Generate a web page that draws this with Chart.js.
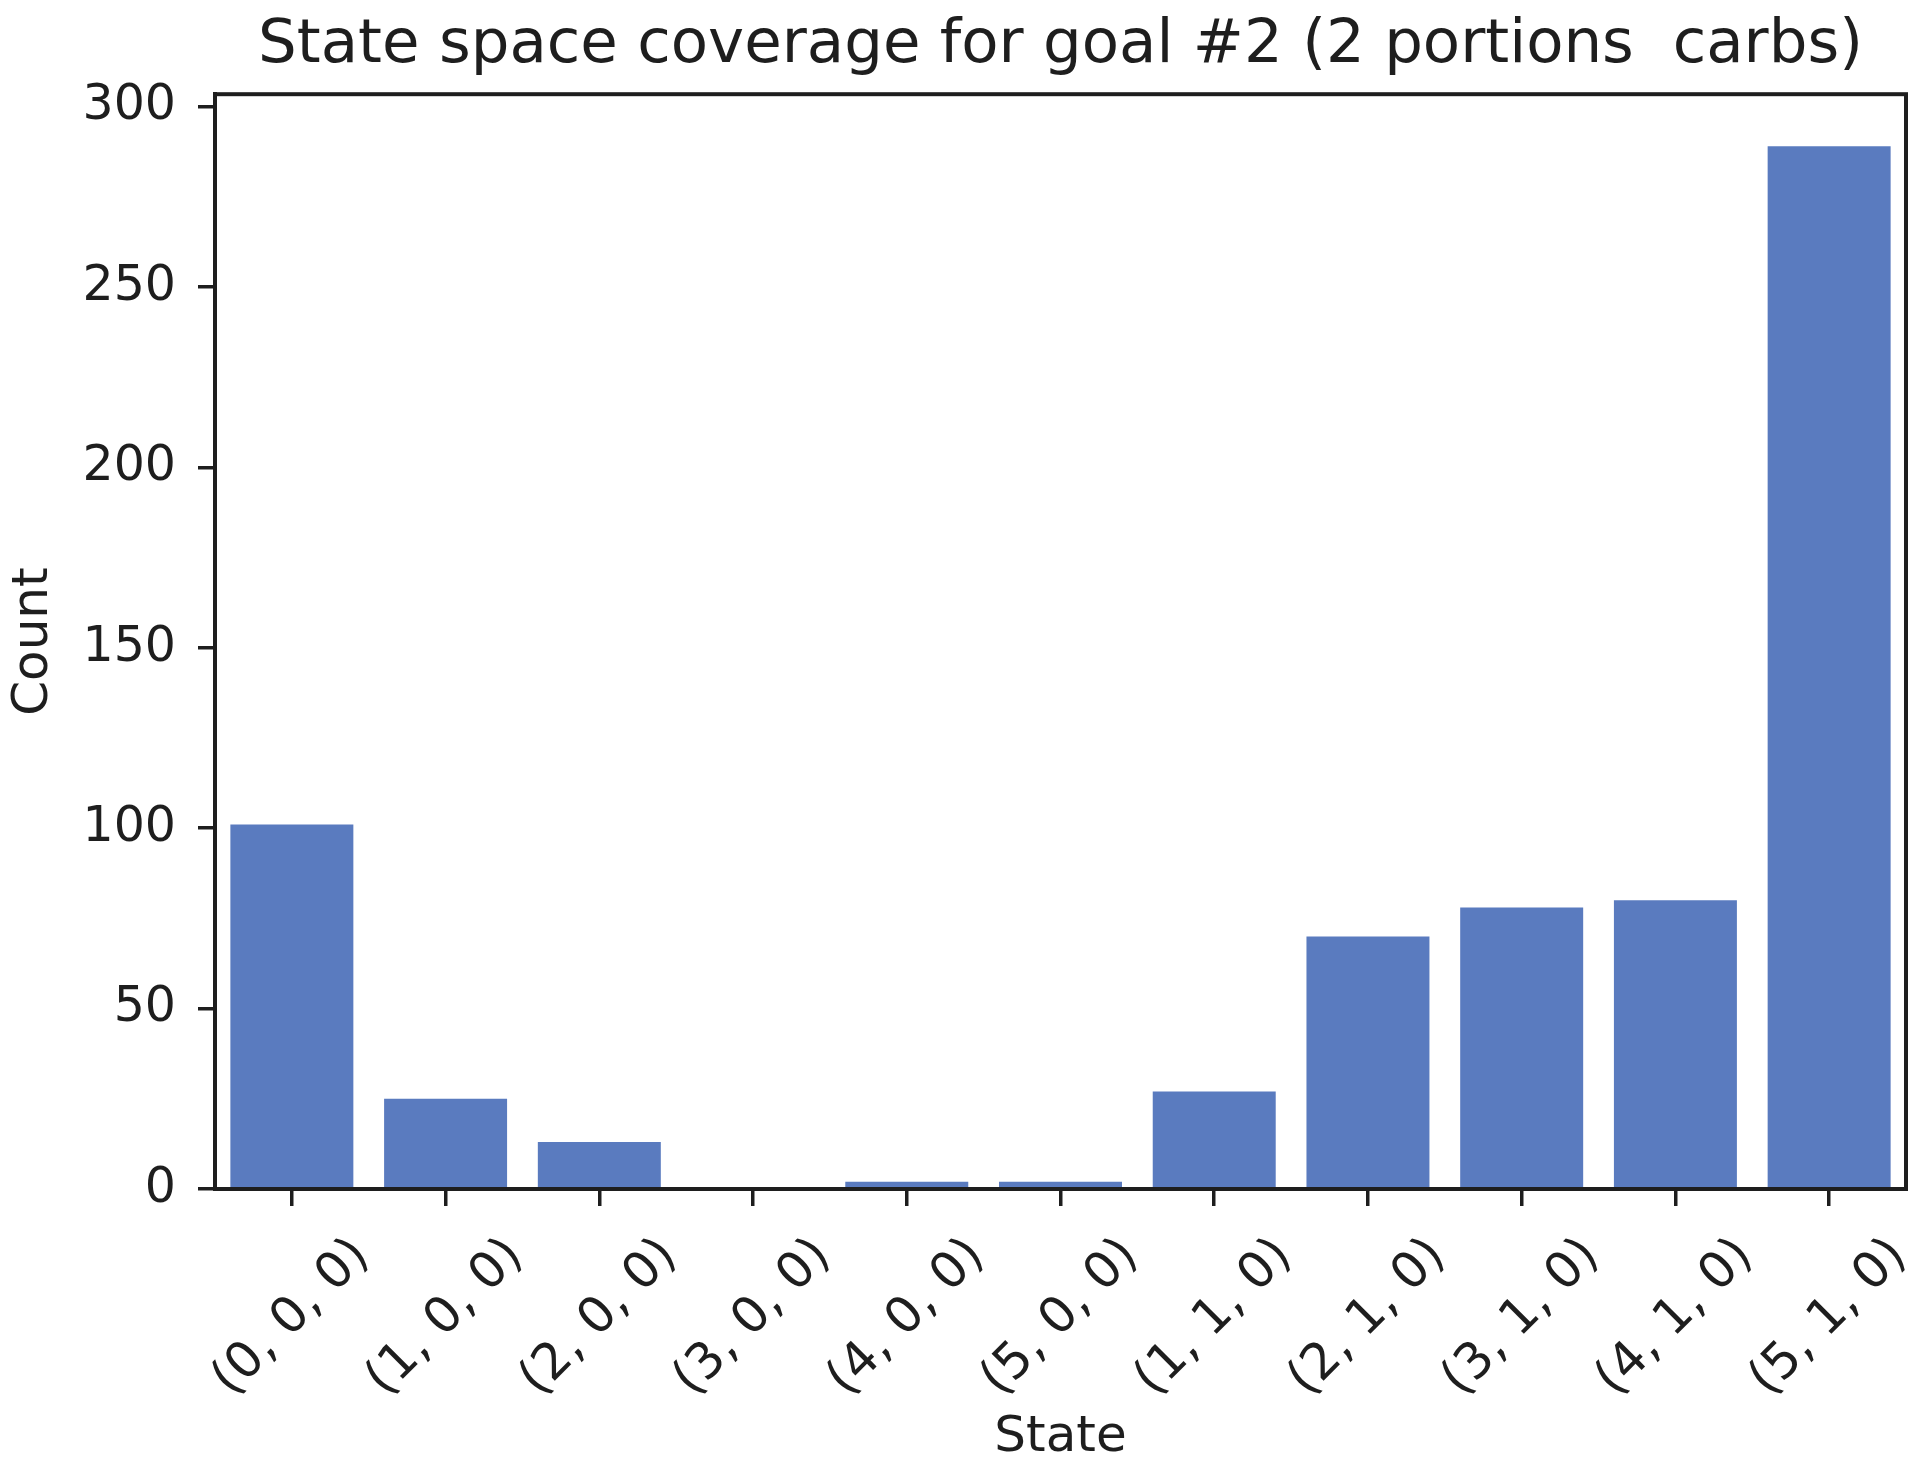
<!DOCTYPE html>
<html>
<head>
<meta charset="utf-8">
<script src="https://cdn.jsdelivr.net/npm/chart.js@4"></script>
<style>
  html, body { margin: 0; padding: 0; background: #fff; }
  #wrap { width: 1920px; height: 1472px; }
</style>
</head>
<body>
<div id="wrap"><canvas id="chart" width="1920" height="1472"></canvas></div>
<script>
// ── data ──
const chartTitle = 'State space coverage for goal #2 (2 portions  carbs)';
const xTitle = 'State';
const yTitle = 'Count';
const states = ['(0, 0, 0)', '(1, 0, 0)', '(2, 0, 0)', '(3, 0, 0)', '(4, 0, 0)', '(5, 0, 0)',
                '(1, 1, 0)', '(2, 1, 0)', '(3, 1, 0)', '(4, 1, 0)', '(5, 1, 0)'];
const counts = [101, 25, 13, 0, 2, 2, 27, 70, 78, 80, 289];
const yTicks = [0, 50, 100, 150, 200, 250, 300];

const INK = '#1e1e1e';
const BAR = '#5a7bbf';
const FONT = '"DejaVu Sans", sans-serif';

// rotated x labels, centred on the tick like matplotlib does
const xLabelPlugin = {
  id: 'xLabels',
  afterDraw(chart) {
    const { ctx, chartArea } = chart;
    const xs = chart.scales.x;
    ctx.save();
    // frame (top + right spines)
    ctx.strokeStyle = INK;
    ctx.lineWidth = 4;
    ctx.strokeRect(chartArea.left, chartArea.top, chartArea.right - chartArea.left, chartArea.bottom - chartArea.top);

    ctx.font = '50px ' + FONT;
    ctx.fillStyle = INK;
    ctx.textAlign = 'center';
    ctx.textBaseline = 'middle';
    const top = chartArea.bottom + 17 + 26;
    states.forEach((s, i) => {
      const w = ctx.measureText(s).width;
      const cx = xs.getPixelForValue(i);
      const cy = top + (w + 45) * Math.SQRT1_2 / 2;
      ctx.save();
      ctx.translate(cx, cy);
      ctx.rotate(-Math.PI / 4);
      ctx.fillText(s, 0, 0);
      ctx.restore();
    });
    ctx.restore();
  }
};

new Chart(document.getElementById('chart'), {
  type: 'bar',
  data: {
    labels: states,
    datasets: [{
      data: counts,
      backgroundColor: BAR,
      borderWidth: 0,
      barPercentage: 0.8,
      categoryPercentage: 1.0
    }]
  },
  options: {
    responsive: false,
    devicePixelRatio: 1,
    animation: false,
    layout: { padding: { top: 0, right: 14, bottom: 0, left: 0 } },
    plugins: {
      legend: { display: false },
      tooltip: { enabled: false },
      title: {
        display: true,
        fullSize: false,   // centre over the plot area, not the canvas
        text: chartTitle,
        color: INK,
        font: { family: FONT, size: 61, weight: 'normal' },
        padding: { top: 10, bottom: 11 }
      }
    },
    scales: {
      x: {
        grid: { offset: false, drawOnChartArea: false, drawTicks: true, tickLength: 17, color: INK, lineWidth: 3.5 },
        border: { display: true, color: INK, width: 4 },
        ticks: { display: false },
        title: {
          display: true,
          text: xTitle,
          color: INK,
          font: { family: FONT, size: 50 },
          padding: { top: 0, bottom: 4 }
        },
        afterFit: s => { s.height = 283; }
      },
      y: {
        min: 0,
        max: Math.max(...counts) * 1.05,
        afterBuildTicks: s => { s.ticks = yTicks.map(v => ({ value: v })); },
        grid: { drawOnChartArea: false, drawTicks: true, tickLength: 17, color: INK, lineWidth: 3.5 },
        border: { display: true, color: INK, width: 4 },
        ticks: {
          color: INK,
          padding: 22,
          font: { family: FONT, size: 49 },
          callback: v => String(v)
        },
        title: {
          display: true,
          text: yTitle,
          color: INK,
          font: { family: FONT, size: 50 },
          padding: { top: 4, bottom: 0 }
        },
        afterFit: s => { s.width = 215; }
      }
    }
  },
  plugins: [xLabelPlugin]
});
</script>
</body>
</html>
